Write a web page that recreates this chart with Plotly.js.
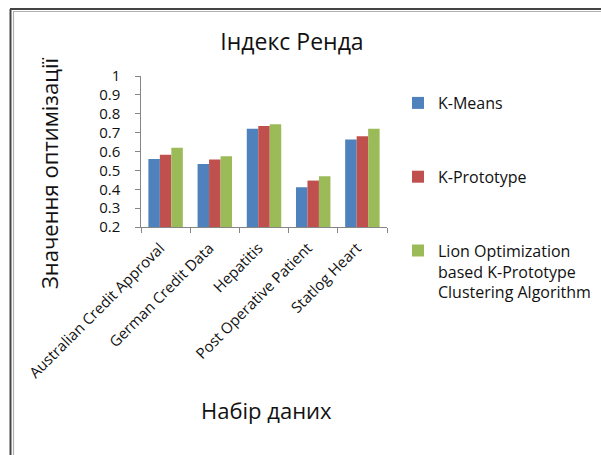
<!DOCTYPE html>
<html>
<head>
<meta charset="utf-8">
<script src="https://cdn.plot.ly/plotly-3.0.1.min.js"></script>
<style>
  html, body { margin: 0; padding: 0; background: #ffffff; }
  #chart { width: 601px; height: 455px; }
</style>
</head>
<body>
<div id="chart"></div>
<script>
// Datasets on the x axis
const datasets = [
  "Australian Credit Approval",
  "German Credit Data",
  "Hepatitis",
  "Post Operative Patient",
  "Statlog Heart"
];

// Rand index per method
const kMeans = [0.56, 0.534, 0.721, 0.41, 0.663];
const kPrototype = [0.583, 0.557, 0.735, 0.446, 0.681];
const lionKPrototype = [0.62, 0.575, 0.744, 0.469, 0.721];

const seriesNames = [
  "K-Means",
  "K-Prototype",
  "Lion Optimization<br>based K-Prototype<br>Clustering Algorithm"
];

const seriesColors = ["#4F81BD", "#C0504D", "#9BBB59"];
const seriesValues = [kMeans, kPrototype, lionKPrototype];

const traces = seriesValues.map((vals, i) => ({
  type: "bar",
  name: seriesNames[i],
  x: datasets,
  y: vals,
  marker: { color: seriesColors[i] },
  legendgroup: "g" + i
}));

// Plot area in pixels: x 141..387, y 76..227
const L = 141, R = 387, T = 76, B = 227;
const W = 601, H = 455;
const px = v => (v - L) / (R - L);
const py = v => (B - v) / (B - T);

const frameLines = [
  // page frame: double line along the top and left edges
  { x0: px(10.5), x1: px(10.5), y0: py(9), y1: py(460), color: "#444444", w: 2 },
  { x0: px(13.5), x1: px(13.5), y0: py(11), y1: py(460), color: "#b0b0b0", w: 1.2 },
  { x0: px(10), x1: px(610), y0: py(9), y1: py(9), color: "#444444", w: 2 },
  { x0: px(13), x1: px(610), y0: py(11.5), y1: py(11.5), color: "#b0b0b0", w: 1.2 }
];

const shapes = frameLines.map(s => ({
  type: "line", xref: "paper", yref: "paper",
  x0: s.x0, x1: s.x1, y0: s.y0, y1: s.y1,
  line: { color: s.color, width: s.w }
}));

const titleFont = { family: "Open Sans, Noto Sans, sans-serif", color: "#111111" };

const annotations = [
  {
    text: "Значення оптимізації",
    xref: "paper", yref: "paper",
    x: px(49), y: py(173),
    xanchor: "center", yanchor: "middle",
    textangle: -90,
    showarrow: false,
    font: Object.assign({ size: 22 }, titleFont)
  },
  {
    text: "Набір даних",
    xref: "paper", yref: "paper",
    x: px(266), y: py(410),
    xanchor: "center", yanchor: "middle",
    showarrow: false,
    font: Object.assign({ size: 22 }, titleFont)
  }
];

const layout = {
  width: W,
  height: H,
  margin: { l: L, r: W - R, t: T, b: H - B, pad: 0, autoexpand: false },
  paper_bgcolor: "#ffffff",
  plot_bgcolor: "#ffffff",
  bargap: 0.3,
  bargroupgap: 0,
  barmode: "group",
  title: {
    text: "Індекс Ренда",
    font: Object.assign({ size: 23 }, titleFont),
    x: 292 / W, xanchor: "center", xref: "container",
    y: 1 - 42 / H, yanchor: "middle", yref: "container"
  },
  xaxis: {
    type: "category",
    showline: true,
    linecolor: "#868686",
    linewidth: 1,
    ticks: "outside",
    tickson: "boundaries",
    ticklen: 5,
    tickcolor: "#868686",
    tickangle: -45,
    ticksuffix: "\u00a0\u00a0",
    tickfont: { family: "Open Sans, sans-serif", size: 15, color: "#111111" },
    showgrid: false,
    zeroline: false
  },
  yaxis: {
    range: [0.2, 1],
    dtick: 0.1,
    tick0: 0.2,
    showline: true,
    linecolor: "#868686",
    linewidth: 1,
    ticks: "outside",
    ticklen: 5,
    tickcolor: "#868686",
    ticksuffix: "\u00a0\u00a0\u00a0",
    tickfont: { family: "Open Sans, sans-serif", size: 15, color: "#111111" },
    showgrid: false,
    zeroline: false
  },
  legend: {
    x: px(398), xanchor: "left",
    y: py(86), yanchor: "top",
    maxheight: 340,
    traceorder: "grouped",
    tracegroupgap: 50,
    valign: "top",
    font: { family: "Open Sans, sans-serif", size: 16, color: "#111111" },
    bgcolor: "rgba(0,0,0,0)",
    itemwidth: 30
  },
  showlegend: true,
  shapes: shapes,
  annotations: annotations
};

Plotly.newPlot("chart", traces, layout, { displayModeBar: false, staticPlot: true });
</script>
</body>
</html>
